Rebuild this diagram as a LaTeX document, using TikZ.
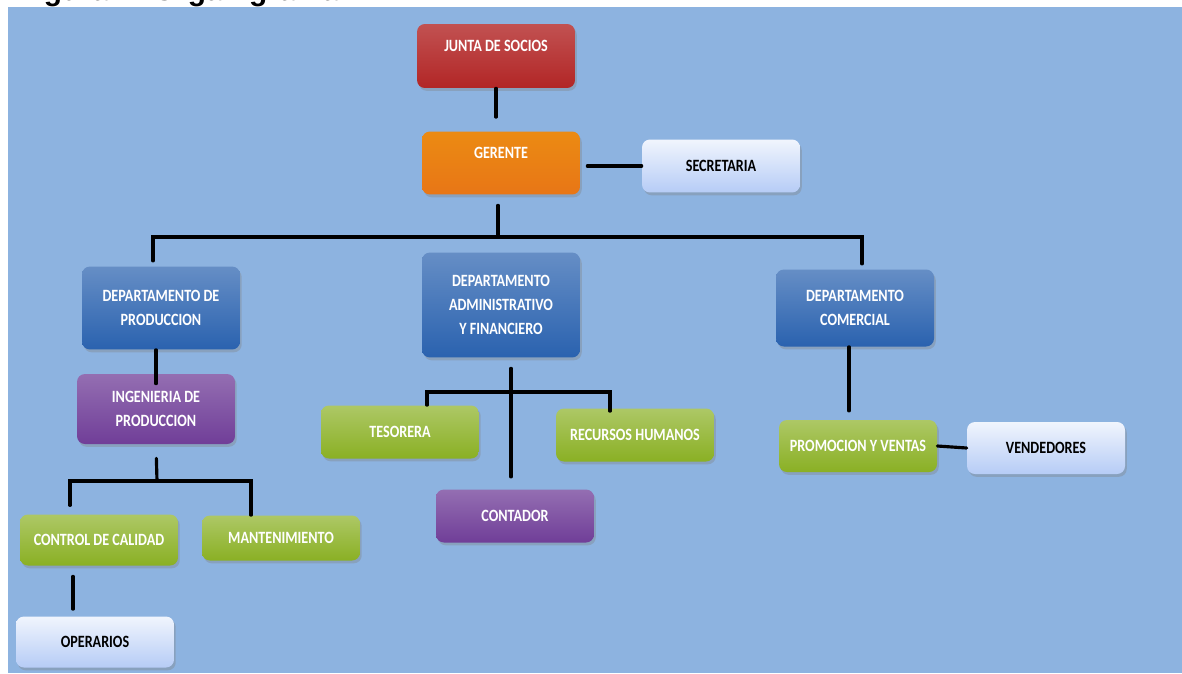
\documentclass[tikz,border=0pt]{standalone}
\usepackage{fontspec}
\setmainfont{Carlito}[FakeStretch=0.82]
\newfontfamily\titlefont{Liberation Sans}
\usetikzlibrary{shadows}
\begin{document}
\begin{tikzpicture}[x={(0.02cm,0)}, y={(0,-0.02cm)}, line cap=round,
  box/.style={rounded corners=4.5pt, minimum width=3.16cm, align=center, inner sep=2pt,
    font=\bfseries\fontsize{9.8}{13.6}\selectfont, text=white,
    drop shadow={shadow xshift=1pt, shadow yshift=-1.6pt, opacity=0.35}},
  redbox/.style={box, top color=orgred!80!white, bottom color=orgred},
  orangebox/.style={box, top color=orgorange!85!yellow, bottom color=orgorange},
  bluebox/.style={box, top color=orgblue!72!white, bottom color=orgblue},
  purplebox/.style={box, top color=orgpurple!75!white, bottom color=orgpurple},
  greenbox/.style={box, top color=orggreen!70!white, bottom color=orggreen},
  lightbox/.style={box, text=black, top color=orglight!20!white, bottom color=orglight},
  conn/.style={line width=1.8pt, black}]
  \definecolor{bgblue}{RGB}{141,179,224}
  \definecolor{orgred}{RGB}{178,38,38}
  \definecolor{orgorange}{RGB}{232,118,22}
  \definecolor{orgblue}{RGB}{42,98,175}
  \definecolor{orgpurple}{RGB}{112,62,152}
  \definecolor{orggreen}{RGB}{138,176,36}
  \definecolor{orglight}{RGB}{182,204,246}
  \useasboundingbox (0,0) rectangle (1182,673);
  \fill[white] (0,0) rectangle (1182,673);
  \fill[bgblue] (8,7) rectangle (1182,673);
  \begin{scope}
    \clip (0,0) rectangle (1182,7);
    \node[anchor=base west, inner sep=0, font=\titlefont\bfseries\fontsize{17}{20}\selectfont] (title) at (17,0.5) {Figura 1. Organigrama};
  \end{scope}

  \node[redbox, minimum height=1.28cm, text depth=11pt] (junta) at (496,56) {JUNTA DE SOCIOS};
  \node[orangebox, minimum height=1.26cm, text depth=11pt] (ger) at (501,163) {GERENTE};
  \node[lightbox, minimum height=1.06cm] (sec) at (721,166) {SECRETARIA};

  \node[bluebox, minimum height=1.66cm] (dprod) at (161,308) {DEPARTAMENTO DE\\PRODUCCION};
  \node[bluebox, minimum height=2.1cm] (dadm) at (501,305) {DEPARTAMENTO\\ADMINISTRATIVO\\Y FINANCIERO};
  \node[bluebox, minimum height=1.54cm] (dcom) at (855,308) {DEPARTAMENTO\\COMERCIAL};

  \node[purplebox, minimum height=1.4cm] (ing) at (156,409) {INGENIERIA DE\\PRODUCCION};
  \node[greenbox, minimum height=1.02cm] (ctrl) at (99,540) {CONTROL DE CALIDAD};
  \node[greenbox, minimum height=0.9cm] (mant) at (281,538) {MANTENIMIENTO};
  \node[lightbox, minimum height=1.02cm] (oper) at (95,642) {OPERARIOS};

  \node[greenbox, minimum height=1.06cm] (tes) at (400,432) {TESORERA};
  \node[greenbox, minimum height=1.06cm] (rrhh) at (635,435) {RECURSOS HUMANOS};
  \node[purplebox, minimum height=1.06cm] (cont) at (515,516) {CONTADOR};

  \node[greenbox, minimum height=1.04cm] (prom) at (858,446) {PROMOCION Y VENTAS};
  \node[lightbox, minimum height=1.04cm] (vend) at (1046,448) {VENDEDORES};

  \coordinate (bus) at (498,237);
  \coordinate (busL) at (153,237);
  \coordinate (busR) at (862,237);
  \coordinate (ingbus) at (157,481);
  \coordinate (ingL) at (70,481);
  \coordinate (ingR) at (251,481);
  \coordinate (admbus) at (511,392);
  \coordinate (admL) at (427,392);
  \coordinate (admR) at (610,392);

  \draw[conn, shorten >=8pt] (junta.south) -- (junta.south |- ger.north);
  \draw[conn, shorten <=4pt] (ger.east |- sec.west) -- (sec.west);
  \draw[conn, shorten <=6pt] (bus |- ger.south) -- (bus);
  \draw[conn, shorten <=3pt, shorten >=3pt] (busL |- dprod.north) -- (busL) -- (busR) -- (busR |- dcom.north);

  \draw[conn] (ing.north |- dprod.south) -- ([yshift=-0.2cm]ing.north);
  \draw[conn, shorten <=8pt] (ing.south) -- (ingbus);
  \draw[conn, shorten <=5pt] (ingL |- ctrl.north) -- (ingL) -- (ingR) -- (ingR |- mant.north);
  \draw[conn, shorten <=6pt, shorten >=4pt] ([xshift=-0.52cm]ctrl.south) -- ([xshift=-0.52cm]ctrl.south |- oper.north);

  \draw[conn, shorten <=6pt, shorten >=7pt] (admbus |- dadm.south) -- (admbus |- cont.north);
  \draw[conn] (admL |- tes.north) -- (admL) -- (admR) -- ([yshift=-0.06cm]admR |- rrhh.north);

  \draw[conn, shorten >=5pt] ([xshift=-0.12cm]dcom.south) -- ([xshift=-0.12cm]dcom.south |- prom.north);
  \draw[conn] (prom.east) -- (vend.west);
\end{tikzpicture}
\end{document}
